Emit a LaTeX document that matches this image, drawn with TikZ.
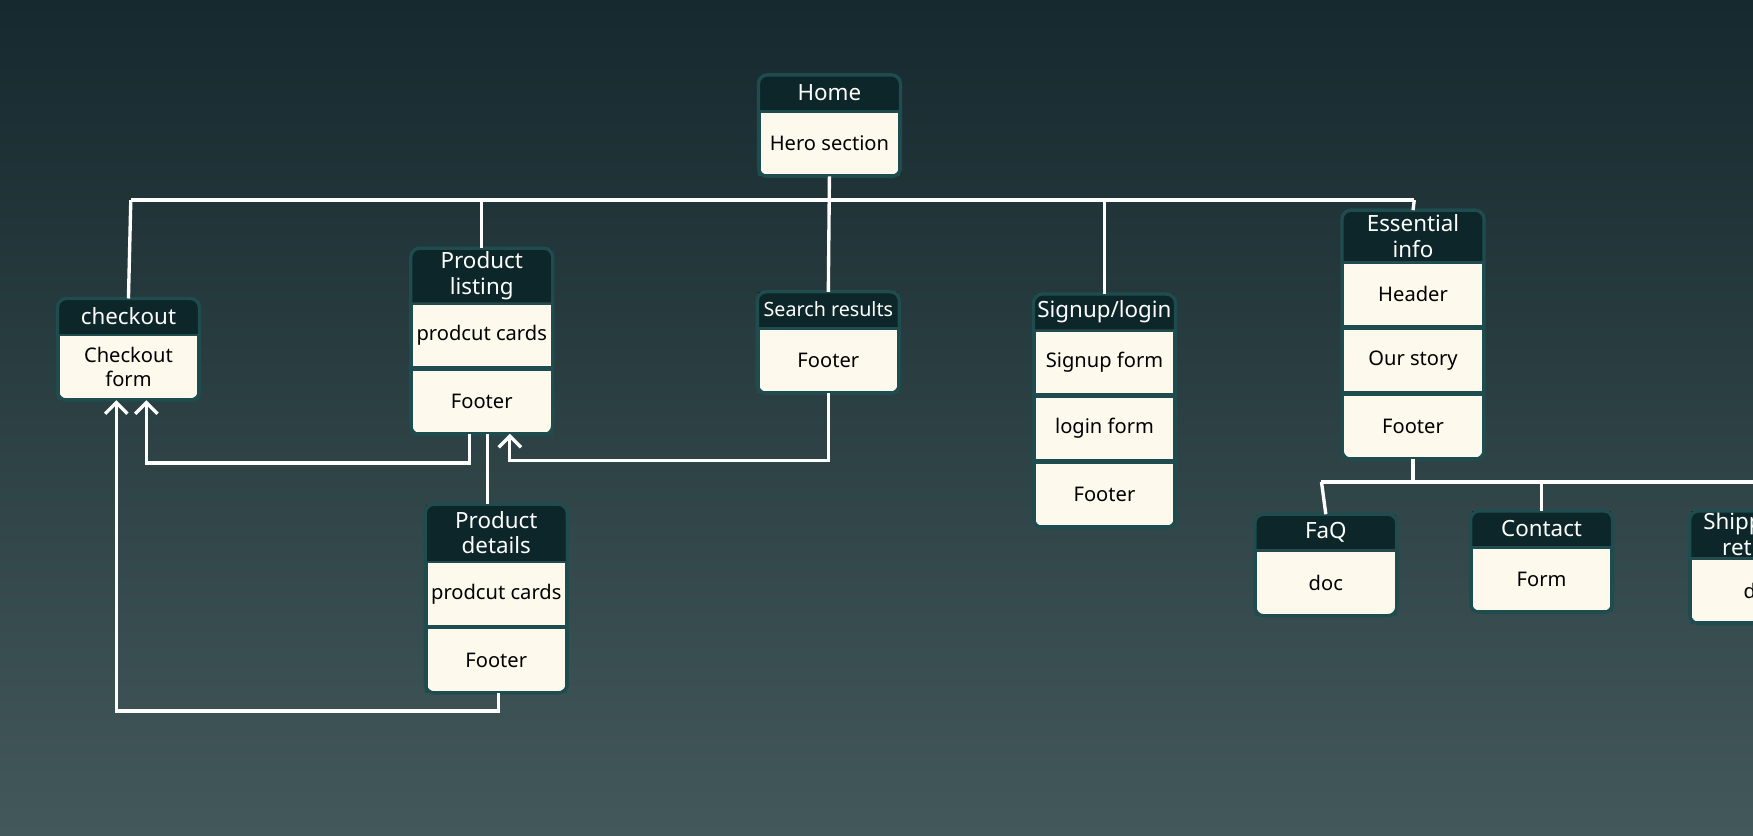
\documentclass[tikz,border=0pt]{standalone}
\usepackage{fontspec}
\setmainfont{Noto Sans}
\usetikzlibrary{positioning,arrows.meta,fit}
\definecolor{bgtop}{HTML}{15292E}
\definecolor{bgbot}{HTML}{43585A}
\definecolor{headfill}{HTML}{0C2629}
\definecolor{cellfill}{HTML}{FDF9EC}
\definecolor{rim}{HTML}{1E4C4F}
\begin{document}
\begin{tikzpicture}[x=0.5pt,y=-0.5pt,
    head/.style={anchor=north west, fill=headfill, text=white, inner sep=0pt,
        minimum width=62.5pt, minimum height=15.5pt, align=center,
        font=\fontsize{10}{11.5}\selectfont},
    tall/.style={minimum height=24pt},
    cell/.style={fill=cellfill, draw=rim, line width=1pt, inner sep=0pt,
        minimum width=62.5pt, minimum height=28.5pt, align=center,
        font=\fontsize{9}{11}\selectfont, below=0pt of #1},
    frame/.style={draw=rim, line width=1.5pt, rounded corners=4pt, inner sep=0pt},
    link/.style={draw=white, line width=1.5pt},
    arrowlink/.style={link, -{Straight Barb[length=5pt,width=10pt,line width=1.5pt]}}
]
    \clip (0,0) rectangle (1568,747);
    \shade[top color=bgtop, bottom color=bgbot] (0,0) rectangle (1568,747);

    % Home
    \node[head] (Home-h) at (679,67) {Home};
    \node[cell=Home-h] (Home-c1) {Hero section};
    \node[frame, fit=(Home-h)(Home-c1)] {};

    % checkout
    \node[head] (Check-h) at (52,267) {checkout};
    \node[cell=Check-h] (Check-c1) {Checkout\\form};
    \node[frame, fit=(Check-h)(Check-c1)] {};

    % Product listing
    \node[head, tall] (List-h) at (368,222) {Product\\listing};
    \node[cell=List-h] (List-c1) {prodcut cards};
    \node[cell=List-c1] (List-c2) {Footer};
    \node[frame, fit=(List-h)(List-c2)] {};

    % Search results
    \node[head, font=\fontsize{8.8}{10}\selectfont] (Search-h) at (678,261) {Search results};
    \node[cell=Search-h] (Search-c1) {Footer};
    \node[frame, fit=(Search-h)(Search-c1)] {};

    % Signup/login
    \node[head] (Sign-h) at (925,263) {Signup/login};
    \node[cell=Sign-h] (Sign-c1) {Signup form};
    \node[cell=Sign-c1] (Sign-c2) {login form};
    \node[cell=Sign-c2] (Sign-c3) {Footer};
    \node[frame, fit=(Sign-h)(Sign-c3)] {};

    % Essential info
    \node[head, tall, minimum height=22.5pt] (Ess-h) at (1201,188) {Essential\\info};
    \node[cell=Ess-h] (Ess-c1) {Header};
    \node[cell=Ess-c1] (Ess-c2) {Our story};
    \node[cell=Ess-c2] (Ess-c3) {Footer};
    \node[frame, fit=(Ess-h)(Ess-c3)] {};

    % Product details
    \node[head, tall, minimum height=25pt] (Det-h) at (381,451) {Product\\details};
    \node[cell=Det-h] (Det-c1) {prodcut cards};
    \node[cell=Det-c1] (Det-c2) {Footer};
    \node[frame, fit=(Det-h)(Det-c2)] {};

    % FaQ, Contact, Shipping
    \node[head] (Faq-h) at (1123,460) {FaQ};
    \node[cell=Faq-h] (Faq-c1) {doc};
    \node[frame, fit=(Faq-h)(Faq-c1)] {};
    \node[head] (Con-h) at (1316,457) {Contact};
    \node[cell=Con-h] (Con-c1) {Form};
    \node[frame, fit=(Con-h)(Con-c1)] {};
    \node[head, minimum height=20.5pt] (Ship-h) at (1512,457) {Shipping \&\\returns};
    \node[cell=Ship-h] (Ship-c1) {doc};
    \node[frame, fit=(Ship-h)(Ship-c1)] {};

    % Tree links
    \coordinate (busL) at (117,179);
    \coordinate (busR) at (1265,179);
    \coordinate (subL) at (1182,431);
    \coordinate (subR) at (1568,431);
    \draw[link] (busL) -- (busR);
    \draw[link] (Home-c1.south) -- (Search-h.north);
    \draw[link] (busL) -- (Check-h.north);
    \draw[link] (List-h.north |- busL) -- (List-h.north);
    \draw[link] (Sign-h.north |- busL) -- (Sign-h.north);
    \draw[link] (busR) -- (Ess-h.north);
    \draw[link] (Ess-c3.south) -- (Ess-c3.south |- subL);
    \draw[link] (subL) -- (subR);
    \draw[link] (subL) -- (Faq-h.north);
    \draw[link] (Con-h.north |- subL) -- (Con-h.north);
    \draw[link] (Ship-h.north |- subL) -- (Ship-h.north);

    % Flow arrows
    \coordinate (l1) at (420,388);
    \coordinate (c1) at (131,358);
    \coordinate (l2) at (456,388);
    \coordinate (l3) at (436,388);
    \coordinate (d1) at (446,620);
    \coordinate (c2) at (104,358);
    \draw[arrowlink] (l1) -- (420,414) -| (c1);
    \draw[arrowlink] (Search-c1.south) -- (Search-c1.south |- 0,412) -| (l2);
    \draw[link] (l3) -- (Det-h.north -| l3);
    \draw[arrowlink] (d1) -- (446,636) -| (c2);
\end{tikzpicture}
\end{document}
